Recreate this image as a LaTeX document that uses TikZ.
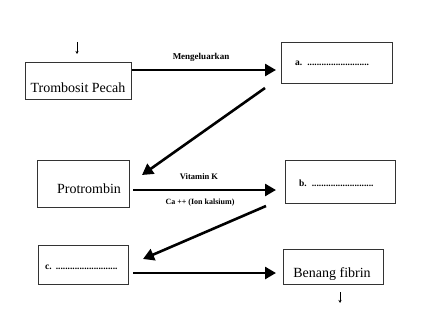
\documentclass[tikz,border=0pt]{standalone}
\usepackage{fontspec}
\setmainfont{Liberation Serif}
\usetikzlibrary{arrows.meta}
\begin{document}
\begin{tikzpicture}[x=1pt,y=-1pt,
  box/.style={draw=black!80,line width=1.1pt,inner sep=0pt,anchor=north west},
  big/.style={font=\fontsize{14}{16}\selectfont,inner sep=0pt},
  blank/.style={font=\fontsize{9.5}{11}\selectfont\bfseries,inner sep=0pt,anchor=west},
  lab/.style={font=\fontsize{8.5}{10}\selectfont\bfseries,inner sep=0pt},
  flow/.style={line width=2.6pt,-{Triangle[length=11pt,width=12pt]}},
  tick/.style={line width=0.8pt,-{Stealth[length=3pt,width=3pt]}}]
\useasboundingbox (0,0) rectangle (425,329);
% boxes
\node[box,minimum width=106pt,minimum height=37pt] (tp) at (25,62) {};
\node[box,minimum width=111pt,minimum height=41pt] (a) at (281,42) {};
\node[box,minimum width=92pt,minimum height=47pt] (pr) at (37,160) {};
\node[box,minimum width=110pt,minimum height=43pt] (b) at (285,160) {};
\node[box,minimum width=90pt,minimum height=39pt] (c) at (38,245) {};
\node[box,minimum width=100pt,minimum height=35pt] (bf) at (283,249) {};
% texts
\node[big,anchor=base] (tptxt) at (78,92) {Trombosit Pecah};
\node[big,anchor=base] (prtxt) at (89,193) {Protrombin};
\node[big,anchor=base] (bftxt) at (332,277) {Benang fibrin};
\node[blank] (atxt) at (295,63) {a.\hspace{5pt}..........................};
\node[blank] (btxt) at (299,183) {b.\hspace{5pt}..........................};
\node[blank] (ctxt) at (45,267) {c.\hspace{4pt}..........................};
% labels
\node[lab,font=\fontsize{9}{11}\selectfont\bfseries] (l1) at (201,57) {Mengeluarkan};
\node[lab] (l2) at (199,177) {Vitamin K};
\node[lab,font=\fontsize{8}{10}\selectfont\bfseries] (l3) at (200,203) {Ca ++ (Ion kalsium)};
% connectors
\coordinate (a1e) at (276,70);
\coordinate (d1s) at (265,88);
\coordinate (d1e) at (142,175);
\coordinate (a2e) at (276,190);
\coordinate (d2s) at (266,206);
\coordinate (d2e) at (143,259);
\coordinate (a3s) at (133,273);
\coordinate (a3e) at (276,273);
\draw[flow] (tp.east |- a1e) -- (a1e);
\draw[flow] (d1s) -- (d1e);
\draw[flow] ([xshift=3pt]pr.east |- a2e) -- (a2e);
\draw[flow] (d2s) -- (d2e);
\draw[flow] (a3s) -- (a3e);
% small arrows
\coordinate (t1s) at (77,42);
\coordinate (t1e) at (77,54);
\coordinate (t2s) at (340,292);
\coordinate (t2e) at (340,303);
\draw[tick] (t1s) -- (t1e);
\draw[tick] (t2s) -- (t2e);
\end{tikzpicture}
\end{document}
